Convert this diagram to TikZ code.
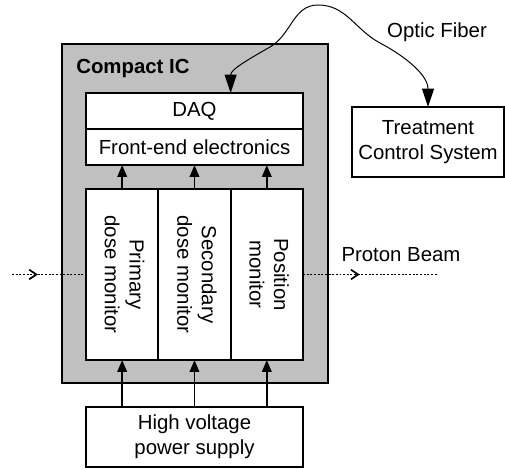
\documentclass[tikz,border=0pt]{standalone}
\usepackage{fontspec}
\setmainfont{Liberation Sans}
\usetikzlibrary{arrows.meta,positioning,decorations.markings}
\definecolor{icgray}{RGB}{192,192,192}
\newcommand{\montext}[1]{\rotatebox{-90}{\begin{tabular}{@{}c@{}}#1\end{tabular}}}
\begin{document}
\begin{tikzpicture}[font=\fontsize{14.5pt}{17.5pt}\selectfont,
    block/.style={draw, fill=white, line width=1.3pt, inner sep=0pt, outer sep=0pt, align=center, minimum width=5.425cm},
    mon node/.style={block, minimum width=1.808cm, minimum height=4.275cm},
    up arrow/.style={line width=1.3pt, -{Triangle[length=3mm,width=2.4mm]}},
    fiber/.style={line width=0.7pt, {Triangle[length=4.6mm,width=3mm]}-{Triangle[length=4.6mm,width=3mm]}},
    beam/.style={line width=0.9pt, dash pattern=on 1.4pt off 1.2pt, postaction={decorate}}]

    \useasboundingbox (0,0) rectangle (12.625,11.7);

    % compact IC
    \node[draw, fill=icgray, line width=1.3pt, minimum width=6.65cm, minimum height=8.475cm] (ic) at (4.875,6.3625) {};
    \node[font=\fontsize{14.5pt}{17.5pt}\selectfont\bfseries, anchor=west, inner sep=0pt] (title) at (1.9,9.975) {Compact IC};

    \node[block, minimum height=0.9cm] (daq) at (4.8625,8.925) {DAQ};
    \node[block, minimum height=0.9cm, below=0pt of daq] (fe) {Front-end electronics};

    \node[mon node] (pm) at (3.054,4.8375) {\montext{Primary\\dose monitor}};
    \node[mon node, right=0pt of pm] (sm) {\montext{Secondary\\dose monitor}};
    \node[mon node, right=0pt of sm] (posm) {\montext{Position\\monitor}};

    % alimentation et systeme de controle
    \node[block, minimum height=1.5cm] (hv) at (4.8625,0.775) {High voltage\\power supply};
    \node[block, minimum width=3.8cm, minimum height=1.75cm] (tcs) at (10.7,8.15) {Treatment\\Control System};

    \foreach \m in {pm,sm,posm} {
        \draw[up arrow] (\m.north) -- (\m.north |- fe.south);
        \draw[up arrow] (\m.south |- hv.north) -- (\m.south);
    }

    % fibre optique
    \coordinate (f1) at (6.75,10.525);
    \coordinate (f2) at (7.95,11.575);
    \coordinate (f3) at (9.5,10.625);
    \draw[fiber] (sm.east |- daq.north) to[out=90,in=210] (f1) to[out=30,in=180] (f2)
        to[out=0,in=152] (f3) to[out=-28,in=90] (tcs.north);
    \node (fiberlbl) at (10.925,10.9) {Optic Fiber};

    % faisceau
    \coordinate (bin) at (0.3,4.8375);
    \coordinate (bout) at (10.95,4.8375);
    \draw[beam, decoration={markings, mark=at position 0.35 with {\arrow{Straight Barb[length=1.8mm,width=2.4mm,line width=1.2pt]}}}] (bin) -- (pm.west);
    \draw[beam, decoration={markings, mark=at position 0.42 with {\arrow{Straight Barb[length=1.8mm,width=2.4mm,line width=1.2pt]}}}] (posm.east) -- (bout);
    \node (beamlbl) at (10.025,5.325) {Proton Beam};
\end{tikzpicture}
\end{document}
